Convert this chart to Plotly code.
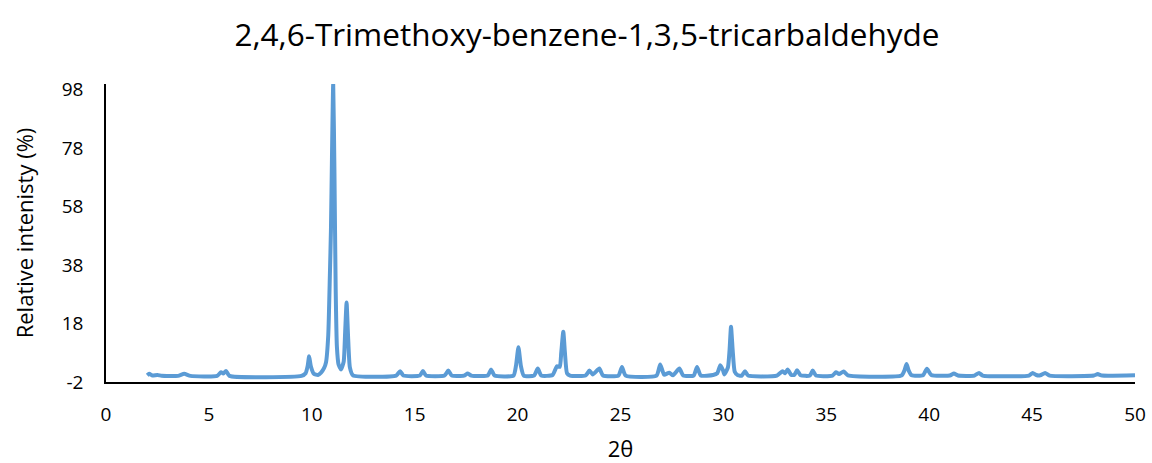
import plotly.graph_objects as go

two_theta = [
    2.0, 2.1, 2.25, 2.5, 2.7, 3.5, 3.8, 4.1, 5.4, 5.59, 5.7, 5.83, 6.0,
    9.5, 9.7, 9.8, 9.87, 9.95, 10.1, 10.3, 10.45, 10.6, 10.69, 10.8, 10.88,
    10.93, 10.98, 11.04, 11.1, 11.16, 11.22, 11.3, 11.42, 11.55, 11.62, 11.69,
    11.76, 11.85, 12.0, 14.1, 14.29, 14.45, 15.25, 15.4, 15.55, 16.45, 16.63,
    16.8, 17.4, 17.57, 17.75, 18.55, 18.71, 18.88, 19.8, 19.92, 20.04, 20.16,
    20.3, 20.8, 20.98, 21.15, 21.7, 21.91, 22.05, 22.12, 22.22, 22.3, 22.4,
    22.55, 23.3, 23.49, 23.65, 23.97, 24.15, 24.9, 25.07, 25.25, 26.75, 26.93,
    27.12, 27.37, 27.55, 27.86, 28.05, 28.55, 28.72, 28.9, 29.5, 29.7, 29.85,
    29.98, 30.05, 30.22, 30.3, 30.37, 30.45, 30.55, 30.7, 30.9, 31.05, 31.2,
    32.6, 32.88, 33.0, 33.12, 33.3, 33.45, 33.58, 33.75, 34.2, 34.34, 34.5,
    35.3, 35.47, 35.62, 35.84, 36.05, 38.65, 38.8, 38.9, 39.0, 39.15, 39.7,
    39.89, 40.1, 41.0, 41.2, 41.4, 42.2, 42.42, 42.6, 44.85, 45.03, 45.2,
    45.4, 45.63, 45.85, 48.0, 48.19, 48.4, 50.0,
]
intensity = [
    0.3, 0.8, 0.2, 0.4, 0.1, 0.1, 0.8, 0.1, 0.1, 1.35, 0.9, 1.8, 0.1,
    0.1, 1.0, 3.5, 6.8, 3.5, 0.8, 0.4, 1.2, 2.8, 4.7, 14.0, 35.0,
    50.0, 75.0, 100.0, 70.0, 30.0, 10.0, 4.0, 2.3, 5.0, 15.0, 25.2,
    14.0, 3.0, 0.3, 0.2, 1.7, 0.2, 0.2, 1.8, 0.2, 0.2, 1.9,
    0.2, 0.2, 0.9, 0.2, 0.2, 2.3, 0.2, 0.2, 3.5, 9.9, 3.5,
    0.2, 0.2, 2.6, 0.2, 0.4, 3.4, 3.2, 8.0, 15.2, 8.0, 1.0,
    0.2, 0.2, 1.9, 0.6, 2.6, 0.2, 0.2, 3.1, 0.2, 0.2, 4.0,
    0.5, 1.2, 0.3, 2.6, 0.2, 0.2, 3.1, 0.2, 0.4, 1.0, 3.7,
    2.0, 0.6, 3.0, 9.0, 16.9, 9.0, 1.5, 0.3, 0.2, 1.7, 0.2,
    0.2, 1.7, 1.0, 2.3, 0.4, 0.5, 2.0, 0.3, 0.2, 1.9, 0.2,
    0.2, 1.35, 0.7, 1.6, 0.3, 0.2, 2.0, 4.2, 2.0, 0.3, 0.3,
    2.5, 0.4, 0.2, 0.9, 0.2, 0.2, 1.1, 0.2, 0.2, 1.1, 0.4,
    0.3, 1.1, 0.2, 0.2, 0.7, 0.2, 0.3,
]

x_ticks = [0, 5, 10, 15, 20, 25, 30, 35, 40, 45, 50]
y_ticks = [-2, 18, 38, 58, 78, 98]

FONT = "Open Sans"

fig = go.Figure()
fig.add_trace(go.Scatter(
    x=two_theta, y=intensity, mode="lines",
    line=dict(color="#5B9BD5", width=4, shape="spline", smoothing=0.5),
    hoverinfo="x+y", showlegend=False,
))

fig.update_layout(
    width=1152, height=463,
    paper_bgcolor="white", plot_bgcolor="white",
    margin=dict(l=106, r=17, t=84, b=81),
    title=dict(text="2,4,6-Trimethoxy-benzene-1,3,5-tricarbaldehyde",
               x=0.5095, xanchor="center", y=0.925, yanchor="middle",
               font=dict(family=FONT, size=31.5, color="#000000")),
    font=dict(family=FONT, color="#000000"),
    xaxis=dict(
        range=[0, 50], tickvals=x_ticks, ticktext=[str(v) for v in x_ticks],
        showline=True, linecolor="#000000", linewidth=1.5,
        showgrid=False, zeroline=False, ticks="", automargin=False,
        tickfont=dict(family=FONT, size=19, color="#000000"),
        ticklabelstandoff=14,
        title=dict(text="2θ", font=dict(family=FONT, size=22, color="#000000"), standoff=17),
    ),
    yaxis=dict(
        range=[-2, 100], tickvals=y_ticks, ticktext=[str(v) for v in y_ticks],
        showline=True, linecolor="#000000", linewidth=1.5,
        showgrid=False, zeroline=False, ticks="", automargin=False,
        tickfont=dict(family=FONT, size=19, color="#000000"),
        ticklabelstandoff=17,
        title=dict(text="Relative intenisty (%)", font=dict(family=FONT, size=22, color="#000000"), standoff=22),
    ),
)

fig.write_html("out.html")
